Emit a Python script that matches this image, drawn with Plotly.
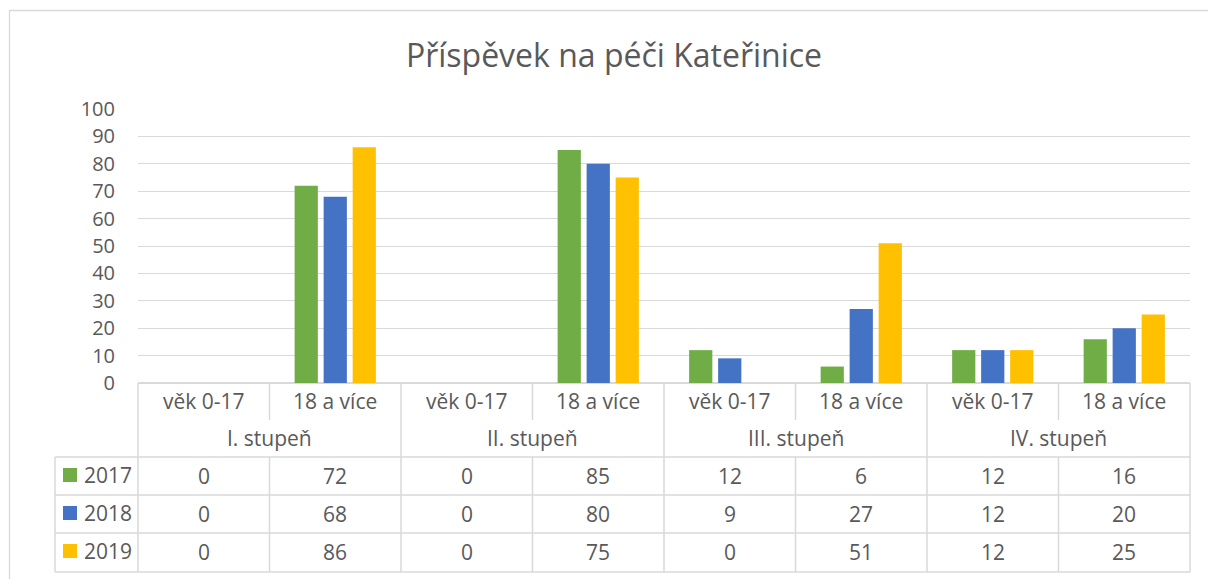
import plotly.graph_objects as go

# ---- data ----
categories = ["věk 0-17", "18 a více", "věk 0-17", "18 a více",
              "věk 0-17", "18 a více", "věk 0-17", "18 a více"]
groups = ["I. stupeň", "II. stupeň", "III. stupeň", "IV. stupeň"]
years = ["2017", "2018", "2019"]
v2017 = [0, 72, 0, 85, 12, 6, 12, 16]
v2018 = [0, 68, 0, 80, 9, 27, 12, 20]
v2019 = [0, 86, 0, 75, 0, 51, 12, 25]
series = [v2017, v2018, v2019]
colors = ["#70AD47", "#4472C4", "#FFC000"]
yticks = [0, 10, 20, 30, 40, 50, 60, 70, 80, 90, 100]
title = "Příspěvek na péči Kateřinice"

# ---- layout geometry (pixels) ----
W, H = 1208, 579
L, R, T, B = 138, 18, 109, 196
plot_h = H - T - B
plot_w = W - L - R
FONT = "Open Sans"
TXT = "#595959"
GRID = "#d9d9d9"


def py(p):
    """pixel y -> paper y"""
    return (H - B - p) / plot_h


def px(p):
    """pixel x -> paper x"""
    return (p - L) / plot_w


xs = list(range(len(categories)))

fig = go.Figure()
for name, vals, col in zip(years, series, colors):
    fig.add_trace(go.Bar(x=xs, y=vals, name=name, marker=dict(color=col, line=dict(width=0))))

shapes = []
ann = []

# chart border
shapes.append(dict(type="rect", xref="paper", yref="paper",
                   x0=px(9.5), x1=px(1230), y0=py(10.5), y1=py(600),
                   line=dict(color=GRID, width=1.3)))

# table horizontal lines
for yy in [457, 495, 533, 572]:
    shapes.append(dict(type="line", xref="paper", yref="paper",
                       x0=px(55), x1=1, y0=py(yy), y1=py(yy),
                       line=dict(color=GRID, width=1.5)))
# row header left line
shapes.append(dict(type="line", xref="paper", yref="paper",
                   x0=px(55), x1=px(55), y0=py(457), y1=py(572),
                   line=dict(color=GRID, width=1.5)))
# outer vertical edges
for xd in [0, 1]:
    shapes.append(dict(type="line", xref="x domain", yref="paper",
                       x0=xd, x1=xd, y0=0, y1=py(572),
                       line=dict(color=GRID, width=1.5)))
# group dividers (full height)
for g in range(1, len(groups)):
    xg = 2 * g - 0.5
    shapes.append(dict(type="line", xref="x", yref="paper",
                       x0=xg, x1=xg, y0=0, y1=py(572),
                       line=dict(color=GRID, width=1.5)))
# category dividers (not through group label row)
for g in range(len(groups)):
    xc = 2 * g + 0.5
    shapes.append(dict(type="line", xref="x", yref="paper",
                       x0=xc, x1=xc, y0=0, y1=py(420),
                       line=dict(color=GRID, width=1.5)))
    shapes.append(dict(type="line", xref="x", yref="paper",
                       x0=xc, x1=xc, y0=py(457), y1=py(572),
                       line=dict(color=GRID, width=1.5)))

tf = dict(family=FONT, size=21, color=TXT)
# category labels
for i, c in enumerate(categories):
    ann.append(dict(x=i, y=py(401), xref="x", yref="paper", text=c,
                    showarrow=False, font=tf, xanchor="center", yanchor="middle"))
# group labels
for g, gname in enumerate(groups):
    ann.append(dict(x=2 * g + 0.5, y=py(438), xref="x", yref="paper", text=gname,
                    showarrow=False, font=tf, xanchor="center", yanchor="middle"))
# data rows
row_c = [476, 514, 552]
for r, (name, vals, col) in enumerate(zip(years, series, colors)):
    yc = row_c[r]
    ann.append(dict(x=px(82), y=py(yc - 1), xref="paper", yref="paper", text=name,
                    showarrow=False, font=tf, xanchor="left", yanchor="middle"))
    shapes.append(dict(type="rect", xref="paper", yref="paper",
                       x0=px(63), x1=px(77), y0=py(yc - 8), y1=py(yc + 6),
                       fillcolor=col, line=dict(width=0)))
    for i, v in enumerate(vals):
        ann.append(dict(x=i, y=py(yc), xref="x", yref="paper", text=str(v),
                        showarrow=False, font=tf, xanchor="center", yanchor="middle"))

fig.update_layout(
    width=W, height=H,
    margin=dict(l=L, r=R, t=T, b=B),
    paper_bgcolor="white", plot_bgcolor="white",
    showlegend=False,
    barmode="group", bargap=0.338, bargroupgap=0.2,
    title=dict(text=title, x=614 / W, xref="container", xanchor="center",
               y=1 - 56 / H, yref="container", yanchor="middle",
               font=dict(family=FONT, size=32, color=TXT)),
    font=dict(family=FONT, color=TXT),
    shapes=shapes, annotations=ann,
)
fig.update_xaxes(range=[-0.5, len(categories) - 0.5], showticklabels=False,
                 showgrid=False, zeroline=False, showline=False, ticks="")
fig.update_yaxes(range=[0, 100], tickvals=yticks, ticktext=[str(t) for t in yticks],
                 showgrid=True, gridcolor=GRID, gridwidth=1.3,
                 zeroline=True, zerolinecolor=GRID, zerolinewidth=1.5,
                 showline=False, ticks="", ticklabelstandoff=22,
                 tickfont=dict(family=FONT, size=20, color=TXT))

fig.write_html("out.html", config={"displayModeBar": False},
               post_script="document.body.style.margin='0px';")
